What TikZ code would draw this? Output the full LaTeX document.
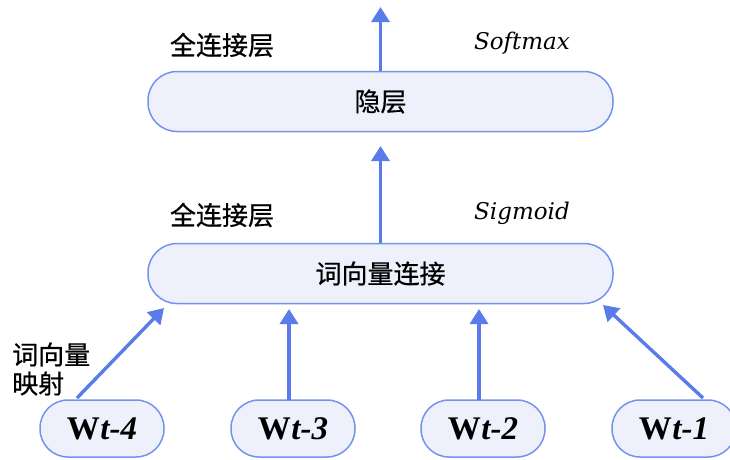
\documentclass[tikz,border=0pt]{standalone}
\usepackage{fontspec}
\setmainfont{Liberation Serif}
\newfontfamily\cjk[FakeBold=0.6]{Noto Sans CJK SC}
\newfontfamily\fnfont{DejaVu Serif}
\usetikzlibrary{arrows.meta}
\definecolor{boxfill}{HTML}{EEF0FB}
\definecolor{boxline}{HTML}{7393EE}
\definecolor{arrowblue}{HTML}{5A7CEB}
\begin{document}
\begin{tikzpicture}[x=1pt,y=-1pt,
  layerbox/.style={draw=boxline, fill=boxfill, line width=1.5pt,
    rounded corners=29pt, minimum width=465pt, minimum height=60pt,
    inner sep=0pt, font=\cjk\fontsize{26}{30}\selectfont},
  wordbox/.style={draw=boxline, fill=boxfill, line width=1.5pt,
    rounded corners=28pt, minimum width=124pt, minimum height=57pt,
    inner sep=0pt},
  flow/.style={draw=arrowblue, line width=3.4pt,
    -{Triangle[length=15pt,width=18pt]}},
  cnlabel/.style={font=\cjk\fontsize{26}{29}\selectfont, text=black, inner sep=0pt},
  fnlabel/.style={font=\fnfont\itshape\fontsize{23}{26}\selectfont, inner sep=0pt},
  wlabel/.style={font=\bfseries\fontsize{33}{36}\selectfont}
]
\useasboundingbox (0,0) rectangle (730,459);

% layers
\node[layerbox] (hidden) at (380.5,101.5) {隐层};
\node[layerbox] (concat) at (380.5,273.5) {词向量连接};

% input words
\newcommand{\wordtext}[1]{W\kern0.5pt{\itshape t-#1}}
\node[wordbox, wlabel] (w4) at (102,428.5) {\wordtext{4}};
\node[wordbox, wlabel] (w3) at (293,428.5) {\wordtext{3}};
\node[wordbox, wlabel] (w2) at (483,428.5) {\wordtext{2}};
\node[wordbox, wlabel] (w1) at (674,428.5) {\wordtext{1}};

% arrow end points
\coordinate (out) at (380.5,7);
\coordinate (hin) at (380.5,146);
\coordinate (c4) at (164,308);
\coordinate (c3) at (289,309);
\coordinate (c2) at (479,309);
\coordinate (c1) at (603,305);
\coordinate (s4) at (77,398);
\coordinate (s3) at (289,400);
\coordinate (s2) at (479,400);
\coordinate (s1) at (703,398);

\draw[flow] (hidden.north) -- (out);
\draw[flow] (concat.north) -- (hin);
\draw[flow] (s4) -- (c4);
\draw[flow] (s3) -- (c3);
\draw[flow] (s2) -- (c2);
\draw[flow] (s1) -- (c1);

% annotations
\node[cnlabel] (fc1) at (222,45) {全连接层};
\node[fnlabel] (sm) at (522,43) {Softmax};
\node[cnlabel] (fc2) at (222,215) {全连接层};
\node[fnlabel] (sg) at (522,213) {Sigmoid};
\node[cnlabel, align=left, anchor=west] (emb) at (12,369) {词向量\\映射};
\end{tikzpicture}
\end{document}
